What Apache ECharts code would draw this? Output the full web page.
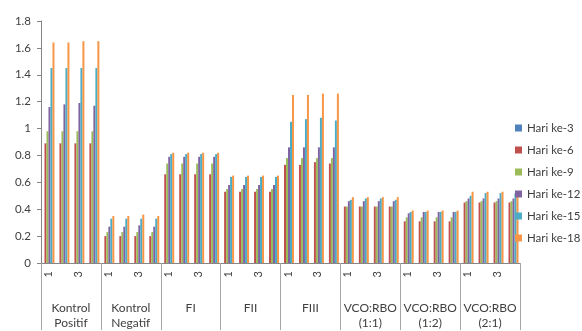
<!DOCTYPE html>
<html>
<head>
<meta charset="utf-8">
<script src="https://cdn.jsdelivr.net/npm/echarts@6/dist/echarts.min.js"></script>
<style>
  html, body { margin: 0; padding: 0; background: #fff; }
  #chart { width: 582px; height: 331px; }
</style>
</head>
<body>
<div id="chart"></div>
<script>
// kategori perlakuan dan ulangan
const groups = ['Kontrol\nPositif', 'Kontrol\nNegatif', 'FI', 'FII', 'FIII', 'VCO:RBO\n(1:1)', 'VCO:RBO\n(1:2)', 'VCO:RBO\n(2:1)']
const reps = ['1', '2', '3', '4']
const seriesNames = ['Hari ke-3', 'Hari ke-6', 'Hari ke-9', 'Hari ke-12', 'Hari ke-15', 'Hari ke-18']
const colors = ['#4F81BD', '#C0504D', '#9BBB59', '#8064A2', '#4BACC6', '#F79646']

// nilai per hari (4 ulangan x 8 perlakuan)
const hari3 = [
  0, 0, 0, 0, 0, 0, 0, 0, 0, 0, 0, 0, 0, 0, 0, 0,
  0, 0, 0, 0, 0, 0, 0, 0, 0, 0, 0, 0, 0, 0, 0, 0
]
const hari6 = [
  0.89, 0.89, 0.89, 0.89, 0.20, 0.20, 0.20, 0.20, 0.66, 0.66, 0.66, 0.66, 0.53, 0.53, 0.53, 0.53,
  0.73, 0.73, 0.75, 0.74, 0.42, 0.42, 0.42, 0.42, 0.31, 0.31, 0.31, 0.31, 0.45, 0.45, 0.45, 0.45
]
const hari9 = [
  0.98, 0.98, 0.98, 0.98, 0.23, 0.23, 0.23, 0.23, 0.74, 0.74, 0.74, 0.74, 0.55, 0.55, 0.55, 0.55,
  0.78, 0.78, 0.78, 0.78, 0.42, 0.42, 0.42, 0.42, 0.34, 0.34, 0.34, 0.34, 0.46, 0.46, 0.46, 0.46
]
const hari12 = [
  1.16, 1.18, 1.19, 1.17, 0.27, 0.27, 0.28, 0.27, 0.79, 0.79, 0.79, 0.79, 0.58, 0.58, 0.58, 0.58,
  0.86, 0.86, 0.86, 0.86, 0.46, 0.46, 0.46, 0.46, 0.37, 0.38, 0.38, 0.38, 0.48, 0.48, 0.48, 0.48
]
const hari15 = [
  1.45, 1.45, 1.45, 1.45, 0.33, 0.33, 0.33, 0.33, 0.81, 0.81, 0.81, 0.81, 0.64, 0.64, 0.64, 0.64,
  1.05, 1.07, 1.08, 1.06, 0.47, 0.48, 0.48, 0.47, 0.38, 0.38, 0.38, 0.38, 0.50, 0.52, 0.52, 0.52
]
const hari18 = [
  1.64, 1.64, 1.65, 1.65, 0.35, 0.35, 0.36, 0.35, 0.82, 0.82, 0.82, 0.82, 0.65, 0.65, 0.65, 0.65,
  1.25, 1.25, 1.26, 1.26, 0.49, 0.49, 0.49, 0.49, 0.39, 0.39, 0.39, 0.39, 0.53, 0.53, 0.53, 0.53
]
const yTicks = { min: 0, max: 1.8, interval: 0.2 }

const values = [hari3, hari6, hari9, hari12, hari15, hari18]
const subCats = []
groups.forEach(() => reps.forEach(r => subCats.push(r)))

const font = 'Lato, "Open Sans", sans-serif'
const textColor = '#404040'

const chart = echarts.init(document.getElementById('chart'))
chart.setOption({
  animation: false,
  color: colors,
  grid: { left: 41, right: 62, top: 21, bottom: 67 },
  legend: {
    orient: 'vertical',
    left: 515,
    top: 121,
    itemWidth: 7,
    itemHeight: 7,
    itemGap: 8,
    itemStyle: { borderWidth: 0 },
    icon: 'rect',
    textStyle: { color: textColor, fontSize: 11.5, fontFamily: font, lineHeight: 14 },
    padding: 0
  },
  xAxis: [
    {
      type: 'category',
      data: subCats,
      axisLine: { lineStyle: { color: '#868686' } },
      axisTick: { interval: 0, length: 24, lineStyle: { color: '#A6A6A6' } },
      axisLabel: { interval: 1, rotate: 90, margin: 8, color: textColor, fontSize: 11, fontFamily: font }
    },
    {
      type: 'category',
      data: groups,
      position: 'bottom',
      axisLine: { show: true, lineStyle: { color: '#868686' } },
      axisTick: { show: true, interval: 0, length: 67, lineStyle: { color: '#A6A6A6' } },
      axisLabel: { interval: 0, margin: 38, lineHeight: 15, color: textColor, fontSize: 12, fontFamily: font }
    }
  ],
  yAxis: {
    type: 'value',
    min: yTicks.min,
    max: yTicks.max,
    interval: yTicks.interval,
    splitLine: { show: false },
    axisLine: { show: true, lineStyle: { color: '#868686' } },
    axisTick: { show: true, length: 4, lineStyle: { color: '#868686' } },
    axisLabel: { margin: 10, color: textColor, fontSize: 11.5, fontFamily: font }
  },
  series: seriesNames.map((name, i) => ({
    name: name,
    type: 'bar',
    xAxisIndex: 0,
    data: values[i],
    barGap: '0%',
    barCategoryGap: '20%'
  }))
})
</script>
</body>
</html>
